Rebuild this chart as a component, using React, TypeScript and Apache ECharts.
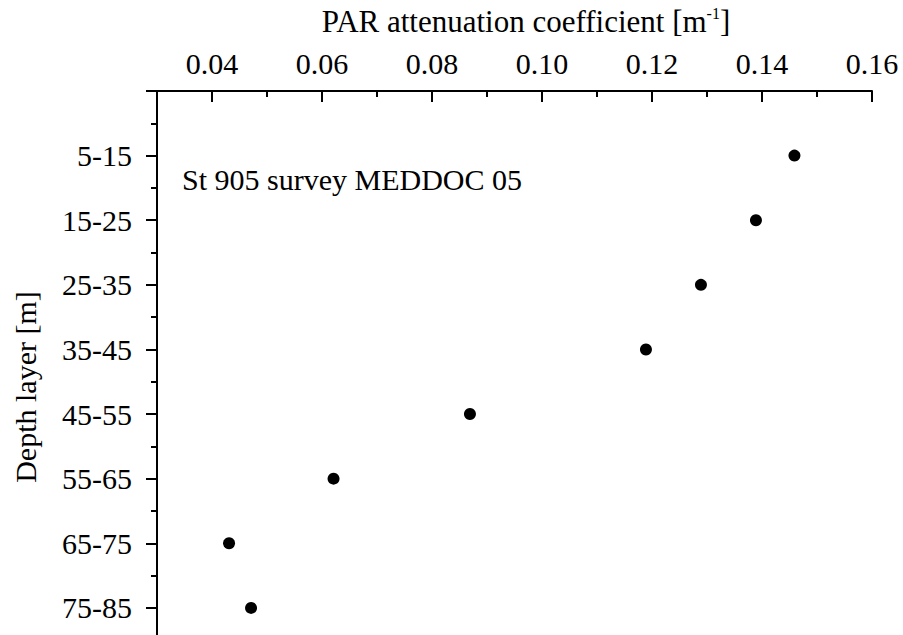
import React, { useEffect, useRef } from "react";
import * as echarts from "echarts";

const layerLabels = ["5-15", "15-25", "25-35", "35-45", "45-55", "55-65", "65-75", "75-85"];
const layerMid = [10, 20, 30, 40, 50, 60, 70, 80];
const parCoef = [0.1459, 0.1389, 0.1289, 0.1189, 0.0869, 0.0621, 0.0431, 0.0471];

const FONT = "Liberation Serif";

export default function App() {
  const ref = useRef<HTMLDivElement>(null);
  useEffect(() => {
    if (!ref.current) return;
    const chart = echarts.init(ref.current, undefined, { renderer: "svg" });
    const data = layerMid.map((d, i) => [parCoef[i], d]);
    chart.setOption({
      animation: false,
      backgroundColor: "#ffffff",
      textStyle: { fontFamily: FONT },
      grid: { left: 157, right: 31, top: 91, bottom: 27.5, containLabel: false },
      xAxis: [
        {
          type: "value",
          position: "top",
          min: 0.03,
          max: 0.16,
          minInterval: 0.02,
          maxInterval: 0.02,
          splitNumber: 6,
          axisLine: { show: true, lineStyle: { color: "#000", width: 2 } },
          axisTick: { show: true, inside: true, length: 11, lineStyle: { color: "#000", width: 2 } },
          axisLabel: {
            show: true,
            margin: 13,
            color: "#000",
            fontSize: 30,
            lineHeight: 30,
            fontFamily: FONT,
            formatter: (v: number) => (v < 0.035 ? "" : v.toFixed(2)),
          },
          splitLine: { show: false },
        },
        {
          type: "value",
          position: "top",
          min: 0.03,
          max: 0.16,
          interval: 0.01,
          axisLine: { show: false },
          axisTick: { show: true, inside: true, length: 6, lineStyle: { color: "#000", width: 2 } },
          axisLabel: { show: false },
          splitLine: { show: false },
        },
      ],
      yAxis: {
        type: "value",
        inverse: true,
        min: 0,
        max: 90,
        interval: 10,
        axisLine: { show: true, lineStyle: { color: "#000", width: 2 } },
        axisTick: { show: true, inside: false, length: 11, lineStyle: { color: "#000", width: 2 } },
        minorTick: { show: true, splitNumber: 2, length: 6, lineStyle: { color: "#000", width: 2 } },
        axisLabel: {
          show: true,
          margin: 25,
          color: "#000",
          fontSize: 30,
          fontFamily: FONT,
          formatter: (v: number) => {
            const idx = layerMid.indexOf(Math.round(v));
            return idx >= 0 ? layerLabels[idx] : "";
          },
        },
        splitLine: { show: false },
      },
      series: [
        {
          type: "scatter",
          xAxisIndex: 0,
          data,
          symbol: "circle",
          symbolSize: 12,
          itemStyle: { color: "#000", opacity: 1 },
        },
      ],
      graphic: [
        {
          type: "text",
          x: 526,
          y: 21,
          style: {
            text: "{a|PAR attenuation coefficient [m}{s|-1}{a|]}",
            align: "center",
            verticalAlign: "middle",
            fill: "#000",
            fontFamily: FONT,
            fontSize: 31,
            rich: {
              a: { fontSize: 31, fontFamily: FONT, fill: "#000" },
              s: { fontSize: 16, fontFamily: FONT, fill: "#000", verticalAlign: "top" },
            },
          },
        },
        {
          type: "text",
          x: 25,
          y: 387,
          rotation: Math.PI / 2,
          style: {
            text: "Depth layer [m]",
            align: "center",
            verticalAlign: "middle",
            fill: "#000",
            fontSize: 30,
            fontFamily: FONT,
          },
        },
        {
          type: "text",
          x: 182,
          y: 179,
          style: {
            text: "St 905 survey MEDDOC 05",
            align: "left",
            verticalAlign: "middle",
            fill: "#000",
            fontSize: 30,
            fontFamily: FONT,
          },
        },
      ],
    });
    return () => chart.dispose();
  }, []);
  return (
    <div
      ref={ref}
      style={{ position: "fixed", left: 0, top: 0, width: 903, height: 700, background: "#fff" }}
    />
  );
}
